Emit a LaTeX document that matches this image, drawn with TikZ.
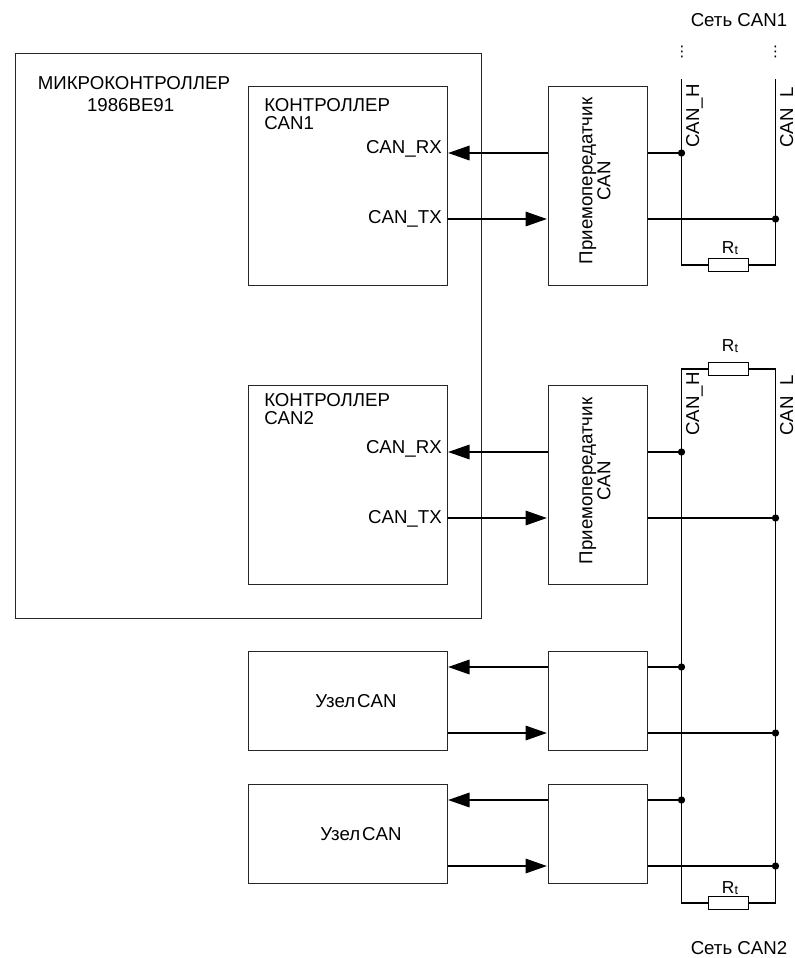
\documentclass[tikz,border=0pt]{standalone}
\usepackage{fontspec}
\setmainfont{Liberation Sans}
\newfontfamily\dejavu{DejaVu Sans}
\usetikzlibrary{arrows.meta}
\tikzset{
  blk/.style={draw=black!85,line width=0.6pt,inner sep=0pt,anchor=north west},
  res/.style={draw=black,line width=0.8pt,fill=white,inner sep=0pt,minimum width=30pt,minimum height=10pt},
  wire/.style={draw=black,line width=0.85pt},
  sig/.style={wire,-{Triangle[length=16pt,width=11pt]},shorten >=0.5pt},
  lbl/.style={font=\fontsize{14}{13.5}\selectfont,inner sep=0pt,text=black},
  lblwide/.style={font=\fontsize{14}{16.5}\selectfont,inner sep=0pt,text=black},
  small/.style={font=\fontsize{13}{14}\selectfont,inner sep=0pt},
  vlbl/.style={lbl,rotate=90,anchor=center},
  jn/.style={circle,fill=black,inner sep=0pt,minimum size=5.5pt},
  dotsn/.style={font=\dejavu\fontsize{11}{11}\selectfont,inner sep=0pt}
}
\begin{document}
\begin{tikzpicture}[x=0.75pt,y=-0.75pt]
\useasboundingbox (0,0) rectangle (794,958);
% boxes
\node[blk,minimum width=349.5pt,minimum height=423.75pt] (mc) at (15,53) {};
\node[blk,minimum width=149.25pt,minimum height=149.25pt] (c1) at (248,86) {};
\node[blk,minimum width=149.25pt,minimum height=149.25pt] (c2) at (248,385) {};
\node[blk,minimum width=74.25pt,minimum height=149.25pt] (t1) at (548,86) {};
\node[blk,minimum width=74.25pt,minimum height=149.25pt] (t2) at (548,385) {};
\node[blk,minimum width=149.25pt,minimum height=74.25pt] (n1) at (248,651) {};
\node[blk,minimum width=149.25pt,minimum height=74.25pt] (n2) at (248,784) {};
\node[blk,minimum width=74.25pt,minimum height=74.25pt] (t3) at (548,651) {};
\node[blk,minimum width=74.25pt,minimum height=74.25pt] (t4) at (548,784) {};
% texts
\node[lblwide,align=center] (mct) at (134,94) {МИКРОКОНТРОЛЛЕР\\\kern-5pt 1986ВЕ91};
\node[lbl,align=left,anchor=west] (c1t) at (264,114) {КОНТРОЛЛЕР\\CAN1};
\node[lbl,align=left,anchor=west] (c2t) at (264,409) {КОНТРОЛЛЕР\\CAN2};
\node[lbl,anchor=east] (rx1) at (442,149) {CAN\_RX};
\node[lbl,anchor=east] (tx1) at (442,219) {CAN\_TX};
\node[lbl,anchor=east] (rx2) at (442,449) {CAN\_RX};
\node[lbl,anchor=east] (tx2) at (442,519) {CAN\_TX};
\node[vlbl,align=center] (t1t) at (595,181) {Приемопередатчик\\CAN};
\node[vlbl,align=center] (t2t) at (595,481) {Приемопередатчик\\CAN};
\node[lbl] (n1t) at (356,701) {Узел\kern1.5pt CAN};
\node[lbl] (n2t) at (361,834) {Узел\kern1.5pt CAN};
\node[lbl] (net1) at (739,20) {Сеть CAN1};
\node[lbl] (net2) at (739,948) {Сеть CAN2};
\node[vlbl,anchor=west] (h1) at (694.5,148) {CAN\_H};
\node[vlbl,anchor=west] (l1) at (788.5,148) {CAN\_L};
\node[vlbl,anchor=west] (h2) at (694.5,436) {CAN\_H};
\node[vlbl,anchor=west] (l2) at (788.5,436) {CAN\_L};
\node[dotsn] (d1) at (682,52) {⋮};
\node[dotsn] (d2) at (775.5,52) {⋮};
% bus coordinates
\coordinate (h1top) at (681.5,79);
\coordinate (l1top) at (775.5,79);
% resistors
\node[res] (r1) at (728.5,265) {};
\node[res] (r2) at (728.5,369) {};
\node[res] (r3) at (728.5,903) {};
\node[small] (r1t) at (730,248) {R\raisebox{-0.3pt}{\fontsize{9.5}{10}\selectfont t}};
\node[small] (r2t) at (730,346) {R\raisebox{-0.3pt}{\fontsize{9.5}{10}\selectfont t}};
\node[small] (r3t) at (730,888) {R\raisebox{-0.3pt}{\fontsize{9.5}{10}\selectfont t}};
% buses
\draw[wire] (h1top) |- (r1.west);
\draw[wire] (l1top) |- (r1.east);
\draw[wire] (r2.west) -| (681.5,903) -- (r3.west);
\draw[wire] (r2.east) -| (775.5,903) -- (r3.east);
% signals and taps
\foreach \ya/\yb/\nm in {153/219/a,452/518/b,667/733/c,800/866/d}{
  \coordinate (ra\nm) at (547.5,\ya);
  \coordinate (la\nm) at (447.5,\ya);
  \coordinate (lb\nm) at (447.5,\yb);
  \coordinate (rb\nm) at (547.5,\yb);
  \coordinate (ea\nm) at (647.5,\ya);
  \coordinate (eb\nm) at (647.5,\yb);
  \node[jn] (ja\nm) at (681.5,\ya) {};
  \node[jn] (jb\nm) at (775.5,\yb) {};
  \draw[sig] (ra\nm) -- (la\nm);
  \draw[sig] (lb\nm) -- (rb\nm);
  \draw[wire] (ea\nm) -- (ja\nm);
  \draw[wire] (eb\nm) -- (jb\nm);
}
\end{tikzpicture}
\end{document}
